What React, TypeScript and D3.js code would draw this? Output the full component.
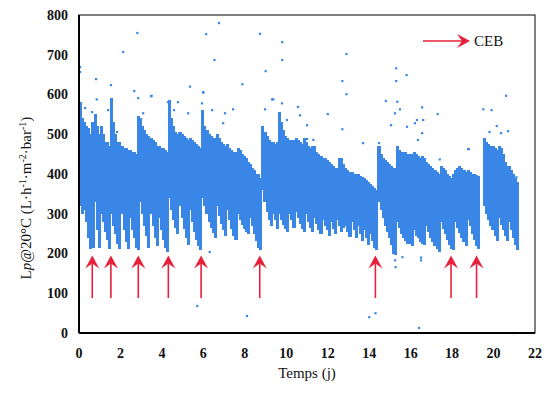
import React from "react";
import * as d3 from "d3";

// cloud of Lp readings, binned every 0.1 day: lower and upper edge of the dense band
const binStep = 0.1;
const lpLow = [
  320, 300, 310, 280, 240, 212, 215, 330, 260, 215,
  300, 280, 255, 235, 212, 300, 270, 250, 225, 212,
  300, 260, 230, 212, 290, 260, 240, 215, 210, 330,
  300, 270, 245, 215, 300, 270, 240, 218, 290, 260,
  235, 215, 205, 340, 310, 285, 265, 248, 320, 290,
  262, 240, 222, 310, 280, 255, 235, 220, 208, 340,
  320, 300, 280, 265, 252, 240, 320, 295, 275, 258,
  245, 310, 285, 262, 245, 235, 300, 285, 272, 262,
  255, 250, 290, 270, 250, 232, 215, 208, 360, 330,
  305, 285, 270, 300, 285, 262, 300, 285, 272, 262,
  255, 300, 285, 265, 305, 290, 275, 262, 255, 300,
  280, 265, 255, 290, 275, 260, 248, 285, 270, 258,
  245, 280, 262, 248, 285, 268, 255, 265, 270, 255,
  242, 280, 260, 240, 270, 250, 232, 260, 240, 222,
  250, 232, 215, 210, 330, 310, 290, 270, 255, 240,
  222, 200, 195, 280, 265, 250, 240, 232, 225, 225,
  220, 260, 245, 238, 230, 225, 222, 270, 255, 240,
  230, 220, 212, 205, 280, 262, 248, 235, 222, 212,
  208, 280, 265, 252, 240, 228, 218, 285, 268, 250,
  235, 220, 212, null, null, 320, 300, 285, 270, 258,
  245, 232, 290, 272, 258, 245, 232, 280, 260, 240,
  222, 210,
];
const lpHigh = [
  580, 540, 530, 520, 515, 500, 530, 550, 520, 500,
  520, 500, 480, 480, 470, 590, 530, 500, 480, 480,
  470, 465, 465, 460, 460, 455, 455, 450, 545, 540,
  520, 510, 500, 495, 490, 485, 480, 470, 470, 465,
  465, 460, 455, 585, 540, 520, 505, 500, 505, 500,
  495, 490, 485, 490, 485, 480, 475, 470, 465, 560,
  520, 510, 500, 495, 490, 490, 500, 490, 480, 475,
  470, 475, 465, 460, 455, 455, 465, 460, 450, 445,
  440, 430, 425, 415, 410, 400, 400, 390, 520, 505,
  495, 485, 480, 480, 475, 480, 555, 530, 510, 495,
  490, 485, 485, 485, 490, 485, 480, 475, 490, 480,
  470, 465, 470, 470, 455, 450, 445, 440, 440, 435,
  430, 425, 420, 415, 415, 440, 440, 425, 415, 410,
  405, 405, 400, 400, 400, 395, 392, 390, 385, 380,
  375, 370, 365, 360, 470, 450, 440, 435, 430, 425,
  420, 415, 415, 470, 460, 455, 455, 455, 450, 450,
  450, 455, 450, 445, 440, 445, 440, 430, 425, 420,
  415, 410, 405, 400, 420, 415, 410, 400, 395, 390,
  400, 410, 415, 420, 415, 410, 405, 410, 405, 400,
  400, 398, 395, null, null, 490, 480, 475, 470, 470,
  465, 460, 470, 465, 450, 430, 420, 420, 410, 400,
  390, 380,
];

// isolated readings outside the band
const strayDays = [
  0.05, 0.05, 0.82, 0.85, 2.13, 2.81, 2.66, 3.5, 5.35, 6.0, 6.13, 6.53, 6.75,
  7.88, 8.73, 9.0, 8.97, 9.37, 9.8, 9.8, 12.9, 12.7, 12.9, 12.0, 12.7, 13.7,
  15.3, 15.3, 15.8, 14.8, 15.35, 16.55, 16.3, 17.3, 18.8, 19.5, 19.9, 20.6,
  20.15, 20.7, 5.7, 8.1, 6.3, 14.0, 14.3, 16.4, 20.95, 15.25, 15.27, 15.6,
  16.5, 16.5,
  0.29, 0.63, 1.54, 1.4, 1.83, 2.85, 3.47, 3.09, 4.29, 4.77, 4.58, 5.26,
  5.98, 5.93, 6.42, 7.04, 7.43, 6.95, 9.31, 9.79, 10.03, 10.56, 10.66, 11.0,
  11.0, 11.3, 14.47, 15.05, 15.24, 15.48, 15.82, 16.2, 16.35, 16.6, 16.55,
  17.4, 18.77, 20.36, 19.8, 21.1,
];
const strayLp = [
  669, 657, 639, 588, 707, 755, 609, 597, 620, 605, 752, 687, 780,
  626, 753, 659, 563, 588, 732, 687, 702, 634, 601, 551, 513, 478,
  666, 634, 649, 584, 582, 568, 536, 551, 463, 563, 561, 597,
  521, 508, 68, 43, 204, 40, 50, 13, 0, 183, 166, 191,
  190, 183,
  566, 556, 624, 561, 506, 591, 596, 553, 581, 581, 561, 553,
  606, 578, 561, 553, 563, 528, 588, 578, 536, 569, 548, 523,
  488, 486, 478, 523, 553, 563, 519, 528, 486, 536, 503,
  437, 463, 503, 506, 392,
];

// chemical backwash (CEB) times, arrow from/to
const cebDays = [0.64, 1.54, 2.86, 4.31, 5.89, 8.72, 14.3, 17.95, 19.18];
const arrowFrom = 88;
const arrowTo = 195;

const xTicks = [0, 2, 4, 6, 8, 10, 12, 14, 16, 18, 20, 22];
const yTicks = [0, 100, 200, 300, 400, 500, 600, 700, 800];

const W = 551;
const H = 399;
const margin = { top: 15, right: 16, bottom: 66, left: 79 };
const blue = "#3a86e6";
const red = "#e8213a";
const serif = "'Liberation Serif', 'Times New Roman', serif";

function arrowHead(tipX: number, tipY: number, dir: "up" | "right") {
  // concave arrow head, 14 wide and 13 long
  if (dir === "up") {
    return `M${tipX},${tipY} L${tipX + 7},${tipY + 13} L${tipX},${tipY + 8} L${tipX - 7},${tipY + 13} Z`;
  }
  return `M${tipX},${tipY} L${tipX - 13},${tipY - 7} L${tipX - 8},${tipY} L${tipX - 13},${tipY + 7} Z`;
}

export default function App() {
  const x = d3
    .scaleLinear()
    .domain([0, 22])
    .range([margin.left, W - margin.right]);
  const y = d3
    .scaleLinear()
    .domain([0, 800])
    .range([H - margin.bottom, margin.top]);

  const colW = x(binStep) - x(0) + 1;

  return (
    <svg
      width={W}
      height={H}
      style={{ position: "absolute", left: 0, top: 0, background: "#fff" }}
    >
      {/* band */}
      <g fill={blue} shapeRendering="crispEdges">
        {lpLow.map((lo, i) => {
          const hi = lpHigh[i];
          if (lo == null || hi == null) return null;
          return (
            <rect
              key={i}
              x={x(i * binStep)}
              y={y(hi)}
              width={colW}
              height={y(lo) - y(hi)}
            />
          );
        })}
      </g>
      {/* stray readings */}
      <g fill={blue}>
        {strayDays.map((d, i) => (
          <rect key={i} x={x(d) - 1} y={y(strayLp[i]) - 1} width={2.2} height={2.2} />
        ))}
      </g>
      {/* CEB arrows */}
      <g>
        {cebDays.map((d, i) => (
          <g key={i}>
            <line
              x1={x(d)}
              x2={x(d)}
              y1={y(arrowFrom)}
              y2={y(arrowTo) + 6}
              stroke={red}
              strokeWidth={1.6}
            />
            <path d={arrowHead(x(d), y(arrowTo), "up")} fill={red} />
          </g>
        ))}
      </g>
      {/* frame */}
      <rect
        x={margin.left}
        y={margin.top}
        width={W - margin.right - margin.left}
        height={H - margin.bottom - margin.top}
        fill="none"
        stroke="#000"
        strokeWidth={1}
      />
      <line x1={margin.left} x2={margin.left} y1={margin.top} y2={y(0)} stroke="#000" strokeWidth={2} />
      <line x1={margin.left} x2={W - margin.right} y1={y(0)} y2={y(0)} stroke="#000" strokeWidth={2} />
      {/* tick labels */}
      <g fontFamily={serif} fontSize={14} fontWeight="bold" fill="#111">
        {yTicks.map((t) => (
          <text key={t} x={margin.left - 11} y={y(t)} dy="0.35em" textAnchor="end">
            {t}
          </text>
        ))}
        {xTicks.map((t) => (
          <text key={t} x={x(t)} y={y(0) + 25} textAnchor="middle">
            {t}
          </text>
        ))}
      </g>
      {/* axis titles */}
      <text
        x={(margin.left + W - margin.right) / 2}
        y={378}
        textAnchor="middle"
        fontFamily={serif}
        fontSize={15}
        fill="#111"
      >
        Temps (j)
      </text>
      <text
        transform={`translate(31,198) rotate(-90)`}
        textAnchor="middle"
        fontFamily={serif}
        fontSize={15}
        fill="#111"
      >
        L<tspan fontStyle="italic">p</tspan>@20°C (L·h
        <tspan dy={-5} fontSize={10}>-1</tspan>
        <tspan dy={5}>·m</tspan>
        <tspan dy={-5} fontSize={10}>-2</tspan>
        <tspan dy={5}>·bar</tspan>
        <tspan dy={-5} fontSize={10}>-1</tspan>
        <tspan dy={5}>)</tspan>
      </text>
      {/* legend */}
      <line x1={423} x2={462} y1={41} y2={41} stroke={red} strokeWidth={1.6} />
      <path d={arrowHead(470, 41, "right")} fill={red} />
      <text x={474} y={41} dy="0.35em" fontFamily={serif} fontSize={15} fill="#111">
        CEB
      </text>
    </svg>
  );
}
